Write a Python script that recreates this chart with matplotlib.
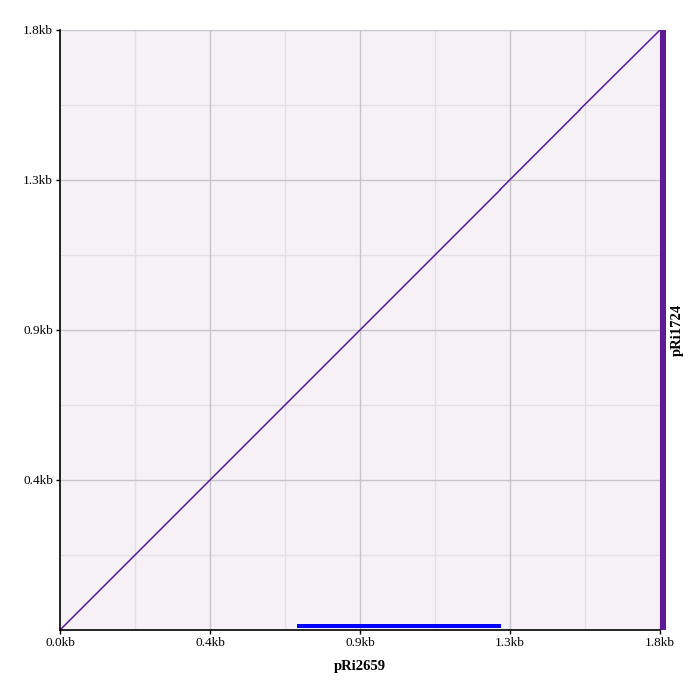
import matplotlib
matplotlib.use("Agg")
import matplotlib.pyplot as plt

# sequence lengths (kb)
len_x = 1.8
len_y = 1.8

# alignment segments: (x start, x end, y start, y end) in kb
seg_x0 = [0.0, 1.321, 1.559]
seg_x1 = [1.321, 1.559, 1.8]
seg_y0 = [0.0, 1.322, 1.561]
seg_y1 = [1.321, 1.560, 1.8]

# annotated feature on x sequence
feat_start = 0.711
feat_end = 1.324

tick_pos = [0.0, 0.45, 0.9, 1.35, 1.8]
tick_lab = ["0.0kb", "0.4kb", "0.9kb", "1.3kb", "1.8kb"]
minor_pos = [0.225, 0.675, 1.125, 1.575]

plt.rcParams['font.family'] = ['Liberation Serif', 'DejaVu Serif']

fig = plt.figure(figsize=(7, 6.8), dpi=100)
ax = fig.add_axes([60 / 700, 50 / 680, 600 / 700, 600 / 680])
ax.set_facecolor('#f6f1f7')

ax.set_xlim(0, len_x)
ax.set_ylim(0, len_y)

# grid
for p in minor_pos:
    ax.axvline(p, color='#e3dde6', lw=1, zorder=0)
    ax.axhline(p, color='#e3dde6', lw=1, zorder=0)
for p in tick_pos[1:]:
    ax.axvline(p, color='#c6c4c8', lw=1, zorder=0.5)
    ax.axhline(p, color='#c6c4c8', lw=1, zorder=0.5)

# alignment line
for a, b, c, d in zip(seg_x0, seg_x1, seg_y0, seg_y1):
    ax.plot([a, b], [c, d], color='#581a96', lw=1.1, zorder=3)

# feature bar at the bottom
ax.fill_between([feat_start, feat_end], 0.006, 0.019, color='#0000ff', lw=0, zorder=4)

# right side bar for the y sequence
ax.fill_between([1.801, 1.818], 0, len_y, color='#5e1a96', lw=0, zorder=4, clip_on=False)

ax.set_xticks(tick_pos)
ax.set_xticklabels(tick_lab)
ax.set_yticks(tick_pos[1:])
ax.set_yticklabels(tick_lab[1:])
ax.tick_params(length=3, width=1, labelsize=9.5, pad=2)

for s in ['top', 'right']:
    ax.spines[s].set_visible(False)
for s in ['left', 'bottom']:
    ax.spines[s].set_color('black')
    ax.spines[s].set_linewidth(1.2)
    ax.spines[s].set_zorder(5)

ax.set_xlabel('pRi2659', fontsize=10.5, fontweight='bold', labelpad=8)
fig.text(677 / 700, 1 - 330 / 680, 'pRi1724', rotation=90, fontsize=10.5,
         fontweight='bold', ha='center', va='center')

fig.savefig('out.png', dpi=100)
